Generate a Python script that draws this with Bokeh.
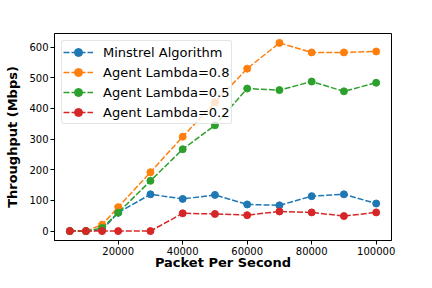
from bokeh.plotting import figure
from bokeh.models import Range1d, FixedTicker, BasicTickFormatter
from bokeh.embed import file_html
from bokeh.resources import INLINE

x = [5000, 10000, 15000, 20000, 30000, 40000, 50000, 60000, 70000, 80000, 90000, 100000]
minstrel = [0, 0, 4, 60, 120, 105, 118, 87, 84, 114, 120, 90]
lambda_08 = [0, 0, 21, 78, 192, 308, 420, 530, 614, 583, 583, 586]
lambda_05 = [0, 0, 10, 60, 164, 267, 345, 465, 460, 488, 456, 484]
lambda_02 = [0, 0, 0, 0, 0, 58, 56, 52, 64, 61, 49, 61]

series = [
    ("Minstrel Algorithm", minstrel, "#1f77b4"),
    ("Agent Lambda=0.8", lambda_08, "#ff7f0e"),
    ("Agent Lambda=0.5", lambda_05, "#2ca02c"),
    ("Agent Lambda=0.2", lambda_02, "#d62728"),
]

x_ticks = [20000, 40000, 60000, 80000, 100000]
y_ticks = [0, 100, 200, 300, 400, 500, 600]

p = figure(width=416, height=272, output_backend="svg", toolbar_location=None,
           x_range=Range1d(250, 104750), y_range=Range1d(-30.7, 644.7),
           min_border_left=54, min_border_right=25, min_border_top=33, min_border_bottom=20)

for label, ys, color in series:
    p.line(x, ys, line_color=color, line_width=1.5, line_dash="6 2", legend_label=label)
    p.scatter(x, ys, size=7, fill_color=color, line_color=color, legend_label=label)

p.xgrid.visible = False
p.ygrid.visible = False
p.outline_line_color = "black"
p.outline_line_width = 1
p.outline_line_alpha = 1
p.background_fill_color = "white"
p.border_fill_color = "white"

p.xaxis.ticker = FixedTicker(ticks=x_ticks)
p.yaxis.ticker = FixedTicker(ticks=y_ticks)
p.xaxis.formatter = BasicTickFormatter(use_scientific=False)

for ax in (p.xaxis[0], p.yaxis[0]):
    ax.axis_line_color = "black"
    ax.major_tick_line_color = "black"
    ax.major_tick_out = 4
    ax.major_tick_in = 0
    ax.minor_tick_line_color = None
    ax.major_label_text_font = "DejaVu Sans"
    ax.major_label_text_font_size = "10px"
    ax.major_label_text_color = "black"
    ax.major_label_text_line_height = 1.0
    ax.major_label_standoff = 2
    ax.axis_label_text_font = "DejaVu Sans"
    ax.axis_label_text_font_size = "13px"
    ax.axis_label_text_font_style = "bold"
    ax.axis_label_text_color = "black"
    ax.axis_label_text_line_height = 1.0
    ax.axis_label_standoff = 2

p.xaxis.axis_label_standoff = -3
p.xaxis.major_label_standoff = 2
p.yaxis.axis_label_standoff = 6
p.xaxis.axis_label = "Packet Per Second"
p.yaxis.axis_label = "Throughput (Mbps)"

lg = p.legend[0]
lg.location = "top_left"
lg.margin = 7
lg.label_text_font = "DejaVu Sans"
lg.label_text_font_size = "13px"
lg.label_text_color = "black"
lg.label_height = 20
lg.glyph_height = 20
lg.glyph_width = 30
lg.spacing = 0
lg.padding = 1
lg.label_standoff = 10
lg.border_line_color = "#cccccc"
lg.border_line_width = 1
lg.background_fill_alpha = 0.8
try:
    lg.border_radius = 3
except Exception:
    pass

open("out.html", "w").write(file_html(p, INLINE))
